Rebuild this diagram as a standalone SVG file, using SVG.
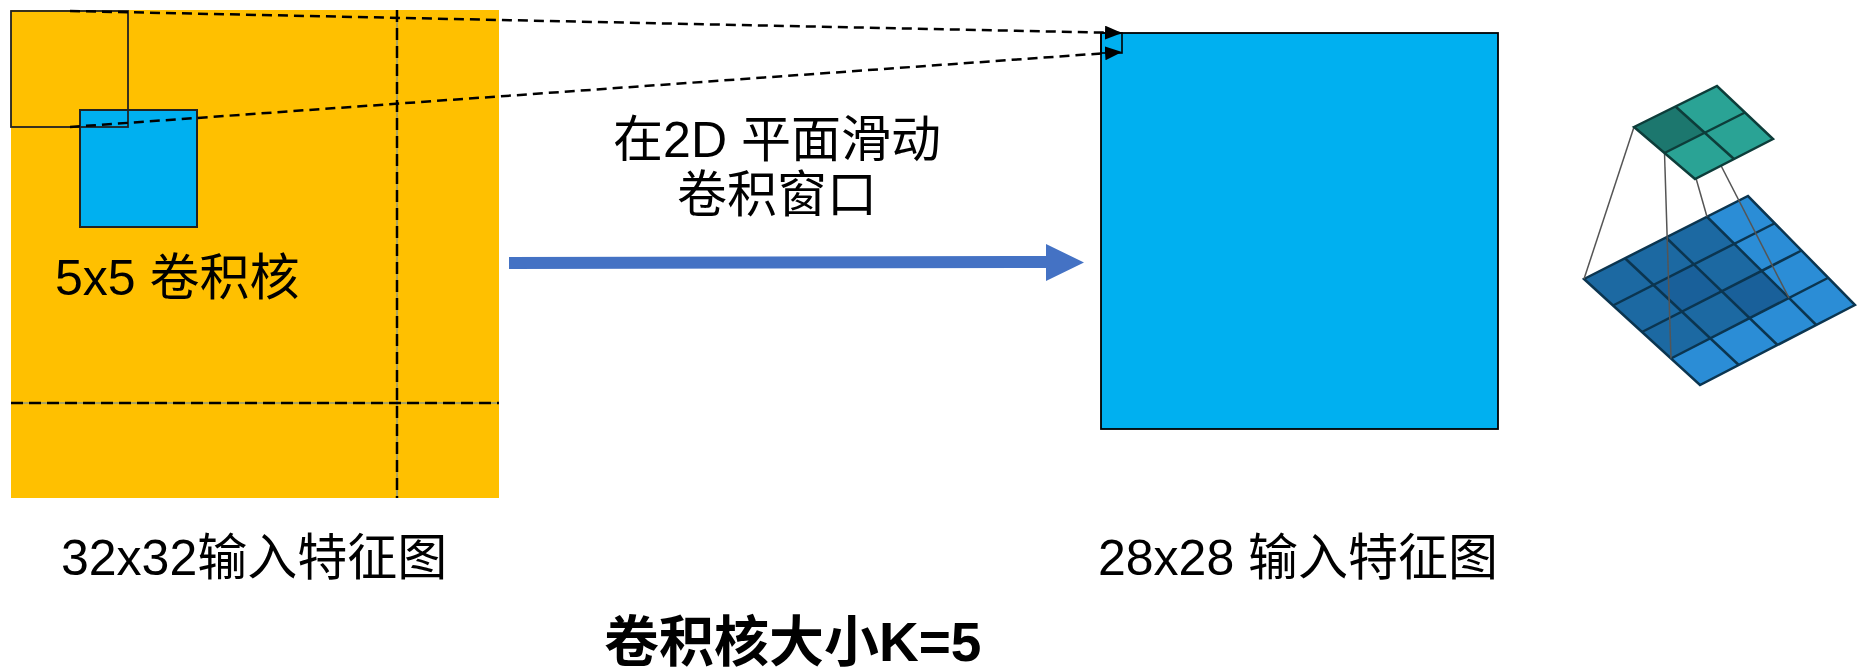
<svg xmlns="http://www.w3.org/2000/svg" width="1857" height="672" viewBox="0 0 1857 672">
  <defs>
    <style>
      .lbl { font-family: "Liberation Sans", "Noto Sans CJK SC", sans-serif; font-size: 50px; fill: #000; }
      .title { font-family: "Liberation Sans", "Noto Sans CJK SC", sans-serif; font-size: 55px; font-weight: bold; fill: #000; }
      .guide { stroke: #000; stroke-width: 2.5; stroke-dasharray: 12 6; fill: none; }
      .guide-base { stroke: #5a86b8; stroke-width: 1; fill: none; }
      .proj { stroke: #000; stroke-width: 2.5; stroke-dasharray: 10 6; fill: none; }
      .grid-line { stroke: #0b3550; stroke-width: 2.5; fill: none; }
      .top-line { stroke: #0d3d3a; stroke-width: 2.5; fill: none; }
      .link { stroke: #555; stroke-width: 1.5; }
    </style>
    <marker id="tri" markerUnits="userSpaceOnUse" markerWidth="18" markerHeight="15" refX="17" refY="7" orient="auto">
      <path d="M0,0 L17,7 L0,14 z" fill="#000"/>
    </marker>
  </defs>

  <!-- 32x32 input feature map -->
  <g id="input-map">
    <rect x="11" y="10" width="488" height="488" fill="#FFC000"/>
    <line class="guide-base" x1="397" y1="10" x2="397" y2="498"/>
    <line class="guide-base" x1="11" y1="403" x2="499" y2="403"/>
    <line class="guide" x1="397" y1="10" x2="397" y2="498"/>
    <line class="guide" x1="11" y1="403" x2="499" y2="403"/>
  </g>

  <!-- 5x5 kernel positions -->
  <g id="kernel">
    <rect x="80" y="110" width="117" height="117" fill="#00B0F0" stroke="#222" stroke-width="2"/>
    <rect x="11" y="11" width="117" height="116" fill="none" stroke="#222" stroke-width="1.8"/>
  </g>

  <!-- 28x28 output feature map -->
  <g id="output-map">
    <rect x="1101" y="33" width="397" height="396" fill="#00B0F0" stroke="#000" stroke-width="1.8"/>
    <rect x="1101" y="33" width="21" height="20" fill="none" stroke="#000" stroke-width="1.6"/>
  </g>

  <!-- connectors -->
  <g id="connectors">
    <line class="proj" x1="70" y1="11" x2="1122" y2="33" marker-end="url(#tri)"/>
    <line class="proj" x1="70" y1="127" x2="1122" y2="52" marker-end="url(#tri)"/>
    <polygon points="509,257 1046,256 1046,244 1084,262.5 1046,281 1046,268 509,269" fill="#4472C4"/>
  </g>

  <!-- labels -->
  <g id="labels">
    <text class="lbl" x="777" y="157" text-anchor="middle">在2D 平面滑动</text>
    <text class="lbl" x="777" y="212" text-anchor="middle">卷积窗口</text>
    <text class="lbl" x="55" y="295">5x5 卷积核</text>
    <text class="lbl" x="61" y="575">32x32输入特征图</text>
    <text class="lbl" x="1098" y="575">28x28 输入特征图</text>
    <text class="title" x="604" y="661">卷积核大小K=5</text>
  </g>

  <!-- 3x3 kernel over 4x4 input producing 2x2 output -->
  <g id="conv-illustration">
    <polygon points="1584,279 1748,196 1855,305 1700,385" fill="#2b8dd6"/>
    <polygon points="1584,279 1707,216.75 1788.94,297.94 1671,358.5" fill="#1c69a2"/>
    <polygon points="1653.44,284.94 1693.88,264.38 1721.75,291.25 1681.88,311.63" fill="#19609a"/>
    <polygon points="1721.75,291.25 1761.63,270.88 1788.94,297.94 1749.63,318.13" fill="#19609a"/>
    <polygon class="grid-line" points="1584,279 1748,196 1855,305 1700,385"/>
    <line class="grid-line" x1="1625" y1="258.25" x2="1738.75" y2="365"/>
    <line class="grid-line" x1="1666" y1="237.5" x2="1777.5" y2="345"/>
    <line class="grid-line" x1="1707" y1="216.75" x2="1816.25" y2="325"/>
    <line class="grid-line" x1="1613" y1="305.5" x2="1774.75" y2="223.25"/>
    <line class="grid-line" x1="1642" y1="332" x2="1801.5" y2="250.5"/>
    <line class="grid-line" x1="1671" y1="358.5" x2="1828.25" y2="277.75"/>

    <line class="link" x1="1634" y1="127" x2="1584" y2="279"/>
    <line class="link" x1="1664.5" y1="153" x2="1671" y2="358.5"/>
    <line class="link" x1="1675.5" y1="106.5" x2="1707" y2="216.75"/>
    <line class="link" x1="1704" y1="132.5" x2="1788.94" y2="297.94"/>

    <polygon points="1634,127 1717,86 1773,139 1695,179" fill="#2aa395"/>
    <polygon points="1634,127 1675.5,106.5 1704,132.5 1664.5,153" fill="#1c776e"/>
    <polygon class="top-line" points="1634,127 1717,86 1773,139 1695,179"/>
    <line class="top-line" x1="1675.5" y1="106.5" x2="1734" y2="159"/>
    <line class="top-line" x1="1664.5" y1="153" x2="1745" y2="112.5"/>
  </g>
</svg>
